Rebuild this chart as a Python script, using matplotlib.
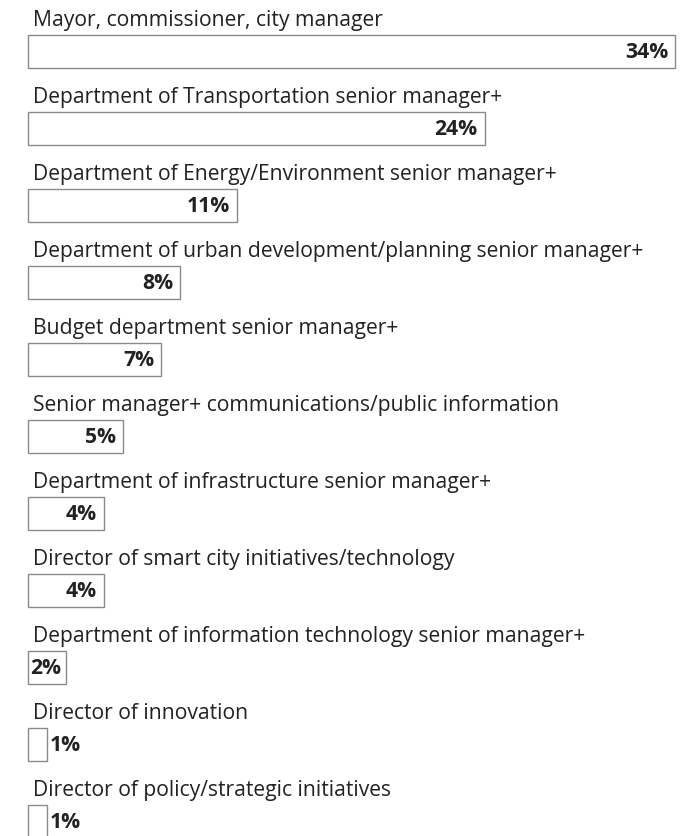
import matplotlib
matplotlib.use("Agg")
import matplotlib.pyplot as plt

labels = [
    "Mayor, commissioner, city manager",
    "Department of Transportation senior manager+",
    "Department of Energy/Environment senior manager+",
    "Department of urban development/planning senior manager+",
    "Budget department senior manager+",
    "Senior manager+ communications/public information",
    "Department of infrastructure senior manager+",
    "Director of smart city initiatives/technology",
    "Department of information technology senior manager+",
    "Director of innovation",
    "Director of policy/strategic initiatives",
]
values = [34, 24, 11, 8, 7, 5, 4, 4, 2, 1, 1]

plt.rcParams['font.family'] = ['Open Sans', 'DejaVu Sans']

W, H = 691, 836
fig = plt.figure(figsize=(W / 100, H / 100), dpi=100)
ax = fig.add_axes([0, 0, 1, 1])

px_per_unit = 19.03   # pixels per percent
x0 = 28               # left edge of bars in pixels
row = 77              # pixels per row
y0 = 51               # center of first bar in pixels

ax.set_xlim(-x0 / px_per_unit, (W - x0) / px_per_unit)
ax.set_ylim((H - y0) / row, -y0 / row)
ax.axis("off")

ys = list(range(len(values)))
ax.barh(ys, values, height=33 / row, left=0, color="white",
        edgecolor="#8a8a8a", linewidth=1.0)

fs = 15.2
for y, lab, v in zip(ys, labels, values):
    ax.text(5 / px_per_unit, y - 25 / row, lab, ha="left", va="baseline",
            fontsize=fs, color="#222222")
    txt = f"{v}%"
    ty = y + 7 / row
    if v >= 3:
        ax.text(v - 7 / px_per_unit, ty, txt, ha="right", va="baseline",
                fontsize=fs, fontweight="bold", color="#222222")
    elif v == 2:
        ax.text(2 / px_per_unit, ty, txt, ha="left", va="baseline",
                fontsize=fs, fontweight="bold", color="#222222")
    else:
        ax.text(v + 2.5 / px_per_unit, ty, txt, ha="left", va="baseline",
                fontsize=fs, fontweight="bold", color="#222222")

fig.savefig("out.png", dpi=100)
